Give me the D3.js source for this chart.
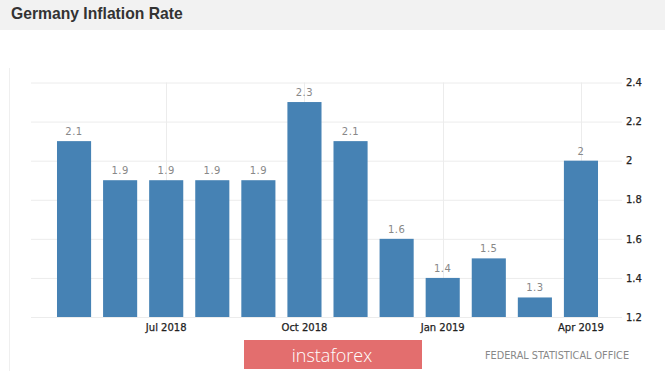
<!DOCTYPE html>
<html>
<head>
  <title>Germany Inflation Rate</title>
  <script src="https://d3js.org/d3.v7.min.js"></script>
  <style>
    body {
      margin: 0;
      padding: 0;
      background-color: white;
      overflow: hidden;
    }
  </style>
</head>
<body>
  <svg width="665" height="371"></svg>

  <script>
    // data
    const months = ["May 2018", "Jun 2018", "Jul 2018", "Aug 2018", "Sep 2018", "Oct 2018",
                    "Nov 2018", "Dec 2018", "Jan 2019", "Feb 2019", "Mar 2019", "Apr 2019"];
    const rates = [2.1, 1.9, 1.9, 1.9, 1.9, 2.3, 2.1, 1.6, 1.4, 1.5, 1.3, 2.0];
    const xTickLabels = ["Jul 2018", "Oct 2018", "Jan 2019", "Apr 2019"];
    const yTicks = [1.2, 1.4, 1.6, 1.8, 2.0, 2.2, 2.4];

    const svg = d3.select("svg");
    const font = "DejaVu Sans";

    // title bar
    svg.append("rect")
      .attr("x", 0).attr("y", 0)
      .attr("width", 665).attr("height", 30)
      .attr("fill", "#f2f2f2");

    svg.append("text")
      .attr("x", 11)
      .attr("y", 19)
      .attr("font-family", "Liberation Sans, Arial")
      .attr("font-weight", "bold")
      .attr("font-size", "15.7px")
      .attr("fill", "#333")
      .text("Germany Inflation Rate");

    // faint left border of the chart panel
    svg.append("line")
      .attr("x1", 9.5).attr("x2", 9.5)
      .attr("y1", 68).attr("y2", 371)
      .attr("stroke", "#efefef");

    const xScale = d3.scaleBand()
        .domain(months)
        .range([51, 604])
        .paddingInner(0.26)
        .paddingOuter(0.13);

    const yScale = d3.scaleLinear()
        .domain([1.2, 2.4])
        .range([317, 82.5]);

    // horizontal grid + right axis labels
    const yAxis = d3.axisRight(yScale)
        .tickValues(yTicks)
        .tickSize(-(622 - 31))
        .tickPadding(4)
        .tickFormat(d => d3.format("")(+d.toFixed(1)));

    const gy = svg.append("g")
        .attr("transform", "translate(622,0)")
        .call(yAxis);
    gy.select(".domain").remove();
    gy.selectAll(".tick line").attr("stroke", "#ececec");
    gy.selectAll(".tick text")
        .attr("font-family", font)
        .attr("font-size", "10px")
        .attr("fill", "#222")
        .attr("stroke", "#222")
        .attr("stroke-width", 0.25);

    // vertical grid lines at labelled months
    svg.selectAll(".vgrid")
      .data(xTickLabels)
      .enter().append("line")
        .attr("class", "vgrid")
        .attr("x1", d => Math.round(xScale(d) + xScale.bandwidth() / 2) + 0.5)
        .attr("x2", d => Math.round(xScale(d) + xScale.bandwidth() / 2) + 0.5)
        .attr("y1", 82.5)
        .attr("y2", 317)
        .attr("stroke", "#ececec");

    // bottom axis labels
    const xAxis = d3.axisBottom(xScale)
        .tickValues(xTickLabels)
        .tickSize(0)
        .tickPadding(7);

    const gx = svg.append("g")
        .attr("transform", "translate(0,317)")
        .call(xAxis);
    gx.select(".domain").remove();
    gx.selectAll(".tick text")
        .attr("font-family", font)
        .attr("font-size", "10px")
        .attr("fill", "#222")
        .attr("stroke", "#222")
        .attr("stroke-width", 0.25);

    // bars
    svg.selectAll(".bar")
      .data(rates)
      .enter().append("rect")
        .attr("class", "bar")
        .attr("x", (d, i) => xScale(months[i]))
        .attr("y", d => yScale(d))
        .attr("width", xScale.bandwidth())
        .attr("height", d => yScale(1.2) - yScale(d))
        .attr("fill", "#4682b4");

    // value labels
    svg.selectAll(".label")
      .data(rates)
      .enter().append("text")
        .attr("class", "label")
        .attr("x", (d, i) => xScale(months[i]) + xScale.bandwidth() / 2)
        .attr("y", d => yScale(d) - 6)
        .attr("text-anchor", "middle")
        .attr("font-family", font)
        .attr("font-size", "10px")
        .attr("letter-spacing", "0.5px")
        .attr("fill", "#888")
        .text(d => d3.format("")(d));

    // watermark
    svg.append("rect")
      .attr("x", 244).attr("y", 340)
      .attr("width", 178).attr("height", 29)
      .attr("fill", "#e36e6e");

    svg.append("text")
      .attr("x", 332)
      .attr("y", 362)
      .attr("text-anchor", "middle")
      .attr("font-family", "Open Sans")
      .attr("font-weight", 300)
      .attr("font-size", "18px")
      .attr("fill", "white")
      .text("instaforex");

    // source
    svg.append("text")
      .attr("x", 629)
      .attr("y", 359)
      .attr("text-anchor", "end")
      .attr("font-family", font)
      .attr("font-size", "9.7px")
      .attr("fill", "#888")
      .text("FEDERAL STATISTICAL OFFICE");
  </script>
</body>
</html>
